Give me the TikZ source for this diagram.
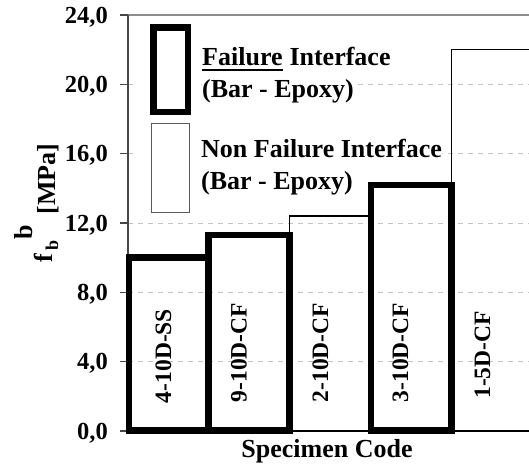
\documentclass[tikz,border=0pt]{standalone}
\usepackage{fontspec}
\setmainfont{Liberation Serif}
\definecolor{gridgray}{RGB}{195,195,195}
\definecolor{axisgray}{RGB}{70,70,70}
\definecolor{topgray}{RGB}{140,140,140}
\definecolor{leggray}{RGB}{90,90,90}
\begin{document}
\begin{tikzpicture}[x=1pt,y=-1pt,
  thickbar/.style={draw=black,line width=6.5pt},
  thinbar/.style={draw=black,line width=1.5pt},
  gridline/.style={draw=gridgray,line width=1pt,dash pattern=on 5pt off 5pt},
  ticklab/.style={font=\fontsize{24.5}{28}\selectfont\bfseries,anchor=base east,inner sep=0pt},
  barlab/.style={font=\fontsize{23.5}{28}\selectfont\bfseries,rotate=90,anchor=base,inner sep=0pt},
  legtext/.style={font=\fontsize{26}{30}\selectfont\bfseries,anchor=base west,inner sep=0pt,fill=white},
  titletext/.style={font=\fontsize{26}{30}\selectfont\bfseries,rotate=90,anchor=base,inner sep=0pt},
]
\useasboundingbox (0,0) rectangle (529,464);
\clip (0,0) rectangle (529,464);
% grid lines
\foreach \v in {4,8,12,16,20}
  \draw[gridline] (128,{431-17.333*\v}) -- (529,{431-17.333*\v});
% top border
\draw[topgray,line width=1.5pt] (128,15) -- (529,15);
% y axis and ticks
\draw[axisgray,line width=1.3pt] (128,15) -- (128,431);
\foreach \v/\t in {0/{0,0},4/{4,0},8/{8,0},12/{12,0},16/{16,0},20/{20,0},24/{24,0}}{
  \draw[axisgray,line width=1.3pt] (120,{431-17.333*\v}) -- (128,{431-17.333*\v});
  \node[ticklab] (t\v) at (108,{431-17.333*\v+8.3}) {\t};
}
% thin bars
\draw[thinbar] (289.5,431) rectangle (371,216.1);
\draw[thinbar] (451.5,431) rectangle (545,49.7);
% thick bars
\draw[thickbar] (129,430.5) rectangle (208.5,257.7);
\draw[thickbar] (208.5,430.5) rectangle (289.5,235.1);
\draw[thickbar] (371,430.5) rectangle (451.5,184.9);
% bar labels
\node[barlab] (b1) at (171,356) {4-10D-SS};
\node[barlab] (b2) at (246.5,352.5) {9-10D-CF};
\node[barlab] (b3) at (328,352.5) {2-10D-CF};
\node[barlab] (b4) at (408,352.5) {3-10D-CF};
\node[barlab] (b5) at (490,355) {1-5D-CF};
% legend
\fill[white] (133,18) rectangle (201,216);
\draw[black,line width=6.5pt] (153.25,27.25) rectangle (187.75,111.75);
\draw[leggray,line width=1pt] (151.5,123.5) rectangle (189,212);
\node[legtext] (fa) at (202,65) {Failure};
\node[legtext] (fb) at ([xshift=6.5pt]fa.base east) {Interface};
\draw[black,line width=2pt] ([yshift=-4.5pt]fa.base west) -- ([yshift=-4.5pt]fa.base east);
\node[legtext] (fc) at (202,97) {(Bar - Epoxy)};
\node[legtext] (nf) at (201,157) {Non Failure Interface};
\node[legtext] (nc) at (201,189) {(Bar - Epoxy)};
% axis titles
\node[font=\fontsize{26}{30}\selectfont\bfseries,anchor=base,inner sep=0pt] (xt) at (327,457) {Specimen Code};
\node[titletext] (ymp) at (55,179) {[MPa]};
\node[titletext] (yf) at (52,258.5) {f};
\node[titletext,font=\fontsize{18}{20}\selectfont\bfseries] (ysub) at (58,245) {b};
\node[titletext] (ysup) at (32,232) {b};
\end{tikzpicture}
\end{document}
